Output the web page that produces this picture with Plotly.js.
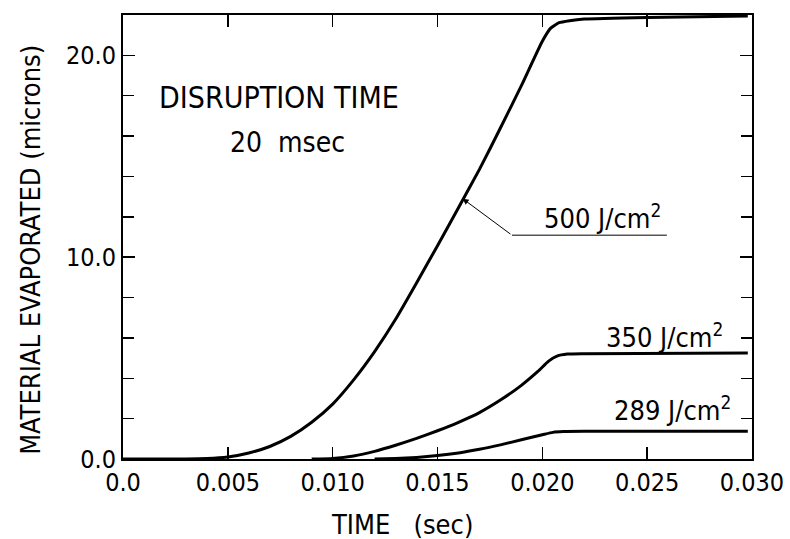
<!DOCTYPE html>
<html><head><meta charset="utf-8">
<script src="https://cdn.plot.ly/plotly-3.0.1.min.js"></script>
<style>html,body{margin:0;padding:0;background:#fff}</style>
</head><body><div id="chart" style="width:790px;height:539px"></div>
<script>
// Data
var t500 = [0.0, 0.003, 0.004, 0.005, 0.006, 0.007, 0.008, 0.009, 0.010, 0.011, 0.012, 0.013, 0.014, 0.015, 0.016, 0.017, 0.018, 0.019, 0.020, 0.0204, 0.0208, 0.0213, 0.022, 0.025, 0.0298];
var y500 = [0.0, 0.0, 0.02, 0.1, 0.3, 0.62, 1.12, 1.82, 2.72, 3.92, 5.32, 6.92, 8.72, 10.57, 12.45, 14.35, 16.4, 18.5, 20.7, 21.35, 21.62, 21.72, 21.8, 21.88, 21.95];
var t350 = [0.009, 0.010, 0.011, 0.012, 0.013, 0.014, 0.015, 0.016, 0.017, 0.018, 0.019, 0.0198, 0.0203, 0.0207, 0.0212, 0.022, 0.0298];
var y350 = [0.0, 0.03, 0.15, 0.38, 0.68, 1.02, 1.4, 1.82, 2.3, 2.92, 3.65, 4.35, 4.85, 5.1, 5.2, 5.22, 5.25];
var t289 = [0.012, 0.013, 0.014, 0.015, 0.016, 0.017, 0.018, 0.019, 0.020, 0.0205, 0.021, 0.022, 0.0298];
var y289 = [0.0, 0.03, 0.08, 0.17, 0.3, 0.48, 0.7, 0.95, 1.2, 1.32, 1.36, 1.37, 1.37];
var xTickVals = [0, 0.005, 0.010, 0.015, 0.020, 0.025, 0.030];
var xTickText = ["0.0", "0.005", "0.010", "0.015", "0.020", "0.025", "0.030"];
var yTickVals = [0, 10, 20];
var yTickText = ["0.0", "10.0", "20.0"];
var labels = ["500 J/cm<sup>2</sup>", "350 J/cm<sup>2</sup>", "289 J/cm<sup>2</sup>"];
var xTitle = "TIME&nbsp;&nbsp;&nbsp;(sec)";
var yTitle = "MATERIAL EVAPORATED (microns)";

var FONT = '"DejaVu Sans Condensed", "Liberation Sans Narrow", sans-serif';
var lineStyle = {color: '#000', width: 3, shape: 'spline', smoothing: 0.5};
var traces = [
  {x: t500, y: y500, mode: 'lines', line: lineStyle, hoverinfo: 'skip'},
  {x: t350, y: y350, mode: 'lines', line: lineStyle, hoverinfo: 'skip'},
  {x: t289, y: y289, mode: 'lines', line: lineStyle, hoverinfo: 'skip'}
];

var layout = {
  width: 790, height: 539,
  margin: {l: 123, r: 38, t: 15, b: 80},
  paper_bgcolor: '#fff', plot_bgcolor: '#fff',
  showlegend: false,
  font: {family: FONT, color: '#000', size: 24},
  xaxis: {
    range: [0, 0.030], tickvals: xTickVals, ticktext: xTickText,
    ticks: 'inside', ticklen: 12, tickwidth: 1.5, tickcolor: '#000',
    showline: true, linewidth: 2, linecolor: '#000', mirror: 'ticks',
    showgrid: false, zeroline: false,
    tickfont: {family: FONT, size: 25}
  },
  yaxis: {
    range: [0, 22], tickvals: yTickVals, ticktext: yTickText,
    ticks: 'inside', ticklen: 12, tickwidth: 1.5, tickcolor: '#000',
    minor: {dtick: 2, ticks: 'inside', ticklen: 11, tickwidth: 1.5, tickcolor: '#000', showgrid: false},
    showline: true, linewidth: 2, linecolor: '#000', mirror: 'ticks',
    showgrid: false, zeroline: false,
    tickfont: {family: FONT, size: 25}
  },
  annotations: [
    {x: 0.4436, y: -0.148, xref: 'paper', yref: 'paper', xanchor: 'center', yanchor: 'middle', text: xTitle, showarrow: false, font: {family: FONT, size: 27}},
    {x: -0.147, y: 0.47, xref: 'paper', yref: 'paper', xanchor: 'center', yanchor: 'middle', textangle: -90, text: yTitle, showarrow: false, font: {family: FONT, size: 27}},
    {x: 0.0162, y: 12.9, xref: 'x', yref: 'y', ax: 0.01855, ay: 11.09, axref: 'x', ayref: 'y',
     showarrow: true, arrowhead: 2, arrowsize: 1.2, arrowwidth: 1, arrowcolor: '#000', text: ''},
    {x: 0.02575, y: 12.03, xref: 'x', yref: 'y', xanchor: 'right', yanchor: 'middle', text: labels[0], showarrow: false, font: {family: FONT, size: 27}},
    {x: 0.02871, y: 6.14, xref: 'x', yref: 'y', xanchor: 'right', yanchor: 'middle', text: labels[1], showarrow: false, font: {family: FONT, size: 27}},
    {x: 0.02909, y: 2.52, xref: 'x', yref: 'y', xanchor: 'right', yanchor: 'middle', text: labels[2], showarrow: false, font: {family: FONT, size: 27}},
    {x: 0.00162, y: 17.92, xref: 'x', yref: 'y', xanchor: 'left', yanchor: 'middle', text: 'DISRUPTION TIME', showarrow: false, font: {family: FONT, size: 30}},
    {x: 0.00501, y: 15.69, xref: 'x', yref: 'y', xanchor: 'left', yanchor: 'middle', text: '20&nbsp;&nbsp;msec', showarrow: false, font: {family: FONT, size: 28}}
  ],
  shapes: [
    {type: 'line', xref: 'x', yref: 'y', x0: 0.01855, y0: 11.09, x1: 0.02594, y1: 11.09, line: {color: '#000', width: 1}}
  ]
};
Plotly.newPlot('chart', traces, layout, {staticPlot: true});
</script></body></html>
